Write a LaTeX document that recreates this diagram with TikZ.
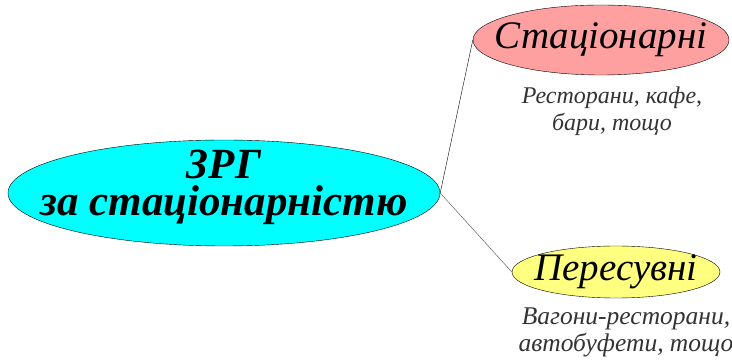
\documentclass[tikz,border=0pt]{standalone}
\usepackage{fontspec}
\setmainfont{Liberation Serif}
\usetikzlibrary{shapes.geometric}
\definecolor{cyanfill}{RGB}{0,255,255}
\definecolor{pinkfill}{RGB}{255,160,160}
\definecolor{yellowfill}{RGB}{255,255,128}

\tikzset{
    bubble/.style={ellipse, draw=black, inner sep=0pt},
    title/.style={inner sep=0pt, anchor=base, font=\bfseries\itshape\fontsize{43}{43}\selectfont},
    note/.style={align=center, font=\itshape\fontsize{24}{27}\selectfont, text=black!80}
}

\begin{document}
\begin{tikzpicture}[x=1pt, y=-1pt]
\useasboundingbox (0, 0) rectangle (732, 363);
\node[bubble, fill=cyanfill, minimum width=432pt, minimum height=106pt] (main) at (224, 193) {};
\node[title] (maintop) at (224, 179) {ЗРГ};
\node[title] (mainbottom) at (224, 216) {за стаціонарністю};
\node[bubble, fill=pinkfill, minimum width=256pt, minimum height=70pt] (stat) at (601, 40) {};
\node[font=\itshape\fontsize{39}{39}\selectfont] (stattext) at (stat.center) {Стаціонарні};
\node[bubble, fill=yellowfill, minimum width=208pt, minimum height=52pt] (peres) at (616, 272) {};
\node[font=\itshape\fontsize{39}{39}\selectfont] (perestext) at (peres.center) {Пересувні};
\node[note] (statnote) at (612, 111) {Ресторани, кафе,\\бари, тощо};
\node[note, font=\itshape\fontsize{25.5}{27}\selectfont] (peresnote) at (626, 332) {Вагони-ресторани,\\автобуфети, тощо};
\draw (main.east) -- (stat.west);
\draw[black!70] (main.east) -- (peres.west);
\end{tikzpicture}
\end{document}
